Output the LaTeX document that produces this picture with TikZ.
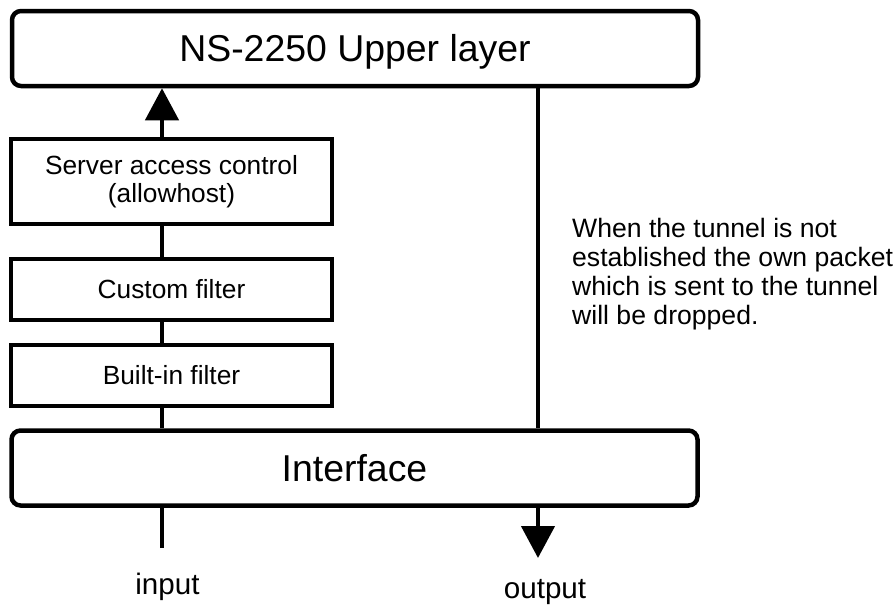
\documentclass[tikz,border=0pt]{standalone}
\usepackage{fontspec}
\setmainfont{Liberation Sans}
\usetikzlibrary{shapes,arrows.meta,positioning}
\tikzstyle{rbox} = [draw, line width=4.5pt, rounded corners=9pt, inner sep=0pt, minimum width=686pt, minimum height=75pt, text height=26.8pt, text depth=0pt, font=\fontsize{37.4}{44}\selectfont]
\tikzstyle{sbox} = [draw, line width=4.5pt, inner sep=0pt, minimum width=321pt, minimum height=61pt, text height=18.8pt, text depth=0pt, font=\fontsize{26.3}{28}\selectfont]
\tikzstyle{note} = [inner sep=0pt, align=left, font=\fontsize{26.6}{29}\selectfont]
\tikzstyle{io} = [inner sep=0pt, font=\fontsize{29.6}{34}\selectfont]
\tikzstyle{line} = [draw, line width=4.5pt]
\tikzstyle{arrow} = [draw, line width=4.5pt, -{Triangle[length=32pt, width=33pt]}]

\begin{document}
\begin{tikzpicture}[x=1pt, y=-1pt]
			\useasboundingbox (0,0) rectangle (895,605);
			\node [rbox] (upper) at (355, 48.5) {NS-2250 Upper layer};
			\node [sbox, minimum height=85pt, text height=, text depth=, align=center] (sac) at (171.5, 181.5) {Server access control\\(allowhost)};
			\node [sbox] (cf) at (171.5, 289.5) {Custom filter};
			\node [sbox] (bf) at (171.5, 375.5) {Built-in filter};
			\node [rbox] (intf) at (354.5, 468) {Interface};
			\node [note, anchor=north west] (drop) at (572, 218.5) {When the tunnel is not\\established the own packet\\which is sent to the tunnel\\will be dropped.};
			\node [io, anchor=base] (inlbl) at (167.5, 594) {input};
			\node [io, anchor=base] (outlbl) at (545, 598) {output};
			\coordinate (in) at (162, 548);
			\coordinate (out) at (538, 558);
			
			\path [line] (in) -- (in |- intf.south);
			\path [line] (intf.north -| in) -- (bf.south -| in);
			\path [line] (bf.north -| in) -- (cf.south -| in);
			\path [line] (cf.north -| in) -- (sac.south -| in);
			\path [arrow] (sac.north -| in) -- (upper.south -| in);
			
			\path [line] (upper.south -| out) -- (intf.north -| out);
			\path [arrow] (intf.south -| out) -- (out);
		\end{tikzpicture}
\end{document}
